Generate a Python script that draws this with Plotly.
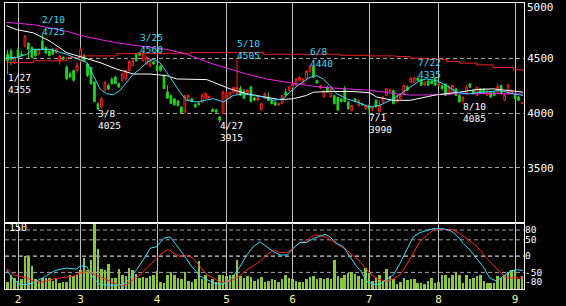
import plotly.graph_objects as go

# ---------------- data ----------------
first_day = -3  # trading-day index of the first candle (Jan 27); Feb 1 = 0

opens = [4540,4570,4470,4580,4540,4614,4640,4600,4580,4540,
         4660,4600,4570,4585,4555,4480,4510,4420,4360,4390,
         4390,4480,4525,4450,4420,4285,4085,4055,4210,4255,
         4310,4330,4270,4300,4315,4390,4435,4540,4555,4480,
         4450,4435,4470,4435,4430,4345,4195,4160,4130,4110,
         4055,4010,4120,4130,4080,4090,4100,4135,4140,4035,
         4030,3965,3995,4135,4140,4190,4180,4225,4200,4180,
         4240,4140,4120,4030,4135,4145,4115,4100,4075,4090,
         4190,4210,4240,4255,4300,4270,4315,4380,4425,4300,
         4230,4150,4235,4150,4160,4145,4130,4220,4100,4025,
         4130,4070,4085,4040,4070,4040,4117,4012,4102,4162,
         4200,4207,4102,4132,4177,4240,4283,4285,4320,4310,
         4255,4295,4295,4320,4255,4250,4265,4177,4192,4222,
         4162,4117,4192,4268,4207,4162,4222,4222,4162,4192,
         4192,4192,4253,4117,4177,4180,4162,4147,4090]
highs = [4580,4590,4520,4600,4570,4715,4650,4610,4590,4590,
         4725,4610,4580,4600,4600,4530,4520,4440,4380,4400,
         4465,4600,4545,4460,4425,4290,4100,4150,4290,4270,
         4330,4340,4280,4365,4400,4480,4500,4550,4560,4558,
         4520,4500,4480,4445,4440,4350,4255,4170,4140,4120,
         4065,4165,4170,4140,4090,4100,4180,4190,4160,4045,
         4040,3975,4210,4200,4195,4240,4505,4250,4220,4220,
         4250,4150,4150,4100,4190,4190,4125,4110,4095,4170,
         4225,4245,4275,4320,4335,4320,4390,4440,4435,4305,
         4260,4210,4250,4230,4170,4150,4140,4250,4110,4075,
         4140,4125,4095,4075,4080,4060,4125,4117,4150,4230,
         4225,4215,4170,4170,4260,4255,4330,4330,4335,4320,
         4290,4300,4300,4330,4275,4262,4270,4260,4260,4232,
         4170,4150,4260,4275,4215,4240,4230,4230,4222,4200,
         4200,4268,4260,4170,4265,4215,4170,4155,4100]
lows = [4355,4440,4450,4500,4520,4600,4505,4500,4515,4530,
        4575,4540,4520,4535,4545,4445,4485,4300,4320,4290,
        4370,4465,4470,4330,4260,4100,4025,4040,4200,4210,
        4260,4265,4230,4290,4300,4380,4430,4470,4520,4470,
        4440,4420,4440,4385,4380,4220,4130,4085,4070,4060,
        4000,4000,4110,4100,4050,4070,4095,4130,4130,4010,
        4000,3915,3990,4130,4130,4180,4170,4160,4130,4170,
        4100,4110,4110,4020,4125,4110,4080,4070,4065,4085,
        4160,4200,4230,4250,4290,4260,4300,4370,4320,4270,
        4220,4140,4185,4140,4080,4020,4100,4100,4030,4015,
        4100,4060,4070,4030,3990,4020,4050,4005,4095,4155,
        4190,4080,4095,4125,4170,4205,4275,4280,4290,4250,
        4250,4250,4265,4250,4250,4215,4160,4170,4185,4155,
        4100,4085,4185,4230,4170,4155,4185,4190,4155,4140,
        4155,4185,4170,4110,4170,4175,4130,4110,4088]
closes = [4480,4490,4510,4510,4530,4705,4585,4510,4525,4585,
          4585,4550,4525,4540,4585,4525,4495,4315,4330,4300,
          4435,4585,4480,4345,4270,4105,4035,4130,4280,4220,
          4270,4270,4240,4360,4390,4475,4480,4480,4530,4550,
          4510,4495,4450,4390,4392,4225,4135,4090,4075,4070,
          4005,4160,4160,4105,4057,4078,4162,4180,4150,4015,
          4010,3935,4192,4165,4190,4235,4235,4165,4135,4210,
          4105,4120,4140,4085,4175,4117,4087,4072,4085,4160,
          4165,4238,4268,4313,4328,4310,4385,4430,4330,4275,
          4250,4205,4192,4220,4087,4027,4105,4105,4040,4070,
          4105,4117,4075,4070,4040,4050,4057,4072,4147,4222,
          4215,4087,4162,4162,4253,4210,4320,4325,4300,4255,
          4285,4255,4270,4255,4268,4223,4162,4238,4253,4162,
          4102,4147,4238,4238,4177,4238,4192,4192,4192,4147,
          4162,4247,4177,4168,4259,4207,4132,4117,4095]
volumes = [16,33,25,18,22,75,72,52,22,18,
           25,25,25,18,25,14,16,16,33,29,
           33,44,70,44,66,148,90,46,44,57,
           25,25,46,33,29,48,44,35,25,28,
           25,29,33,40,16,14,31,38,31,25,
           23,38,18,16,23,63,22,33,14,22,
           16,33,33,29,33,33,65,29,25,29,
           28,18,23,28,16,18,22,20,16,23,
           31,25,23,18,16,16,22,28,29,22,
           25,22,25,23,65,29,25,31,37,38,
           35,29,22,48,37,18,25,31,18,46,
           29,22,11,16,25,20,23,22,14,14,
           11,18,25,14,16,33,31,25,31,38,
           33,14,33,22,25,29,33,18,14,14,
           14,29,25,31,38,43,43,22,29]

# moving averages (vertices: trading-day index, price)
ma_cyan_x = [-3.3,-0.4,2.5,4.4,9.2,14,16.9,19.8,21.7,23.6,
             25.5,27.4,29.3,31.3,33.2,35.1,37,38.9,40.8,42.8,
             44.7,46.6,48.5,51.4,56.2,59.1,61.9,64.8,67.7,70.6,
             73.5,76.3,78.2,81.1,84,85.9,87.8,89.7,91.7,94.5,
             97.4,100.3,101.2,104.1,106,108,110.8,113.7,115.6,117.5,
             120.4,123.3,126.2,129.1,132,134.8,138.7,142.5,145.3]
ma_cyan = [4509,4509,4539,4584,4584,4539,4500,4463,4343,4222,
           4177,4168,4207,4283,4358,4403,4463,4494,4463,4373,
           4283,4192,4117,4102,4132,4102,4162,4177,4162,4147,
           4117,4132,4192,4268,4328,4343,4313,4253,4177,4132,
           4102,4072,4057,4072,4102,4132,4192,4253,4298,4313,
           4298,4253,4192,4177,4186,4192,4207,4177,4162]
ma_white_x = [-3.3,-0.4,4.4,9.2,14,18.8,23.6,28.4,33.2,38,
              42.8,45.6,54.3,56.2,61,65.8,70.6,75.4,79.2,83,
              85,89.7,96.5,101.2,103.2,108,112.8,117.5,120.4,127.1,
              131.9,136.7,141.5,145.3]
ma_white = [4801,4765,4735,4659,4554,4509,4463,4403,4358,4358,
            4343,4313,4307,4283,4222,4177,4147,4123,4132,4162,
            4192,4198,4198,4186,4147,4117,4117,4147,4168,4192,
            4216,4222,4207,4192]
ma_magenta_x = [-3.3,4.4,14,18.8,23.6,28.4,35.1,42.8,48.5,56.2,
                65.8,71.5,80.2,86.9,94.5,101.2,108,113,120,125,
                135,145.3]
ma_magenta = [4831,4810,4750,4705,4674,4644,4614,4584,4539,4448,
              4358,4313,4268,4238,4222,4210,4180,4165,4168,4175,
              4180,4175]
ma_red_x = [-3.3,4.4,14,17.8,28.4,42.8,49.5,55.2,70.6,92.6,
            101.2,108.8,112.8,117.5,123.3,127.1,131.9,136.7,142.5,145.3]
ma_red = [4463,4479,4509,4524,4545,4548,4554,4554,4539,4530,
          4524,4518,4503,4494,4473,4458,4442,4418,4397,4382]

# oscillators in the lower panel
osc_cyan_x = [-3.3,-1.3,0.6,2.5,4.4,6.3,8.2,10.2,12.1,14,
              16.9,17.8,19.8,20.7,22.1,23.6,27.4,30.3,32.2,34.1,
              36,38,39.9,41.8,43.7,45.6,48,50,52.4,54.3,
              56.2,58.1,60,61.9,63.9,65.8,67.7,69.6,71.5,73.5,
              75.4,77.3,79.2,81.1,83,85,86.9,88.3,89.7,91.7,
              93.6,95.5,97.4,98.4,100.3,102.2,104.1,106,108,109.9,
              111.8,113.7,115.6,117.5,119.4,122.3,124.3,126.2,128.1,130,
              131.9,133.8,135.7,137.7,139.6,141.5,143.4,145.3]
osc_cyan = [-42,-72,-87,-87,-82,-72,-60,-47,-40,-37,
            -40,-30,-32,-52,-72,-87,-90,-87,-67,-42,
            -12,24,29,54,59,34,-1,-32,-62,-72,
            -82,-87,-82,-62,-32,3.5,29,44,29,13.6,
            3.5,3.5,24,42,42,54,61,67,59,39,
            29,-1.5,-32,-42,-77,-87,-87,-72,-57,-22,
            18.7,59,72,77,84,84,79,64,39,18.7,
            -6.6,-32,-67,-77,-62,-47,-42,-44]
osc_red_x = [-3.3,-1.3,0.6,2.5,4.4,6.3,8.2,10.2,12.1,14,
             15.9,17.8,19.8,21.7,23.6,25.5,27.4,29.3,31.3,33.2,
             35.1,37,38.9,40.8,42.8,43.7,44.7,46.6,48.5,50.4,
             52.4,54.3,56.2,58.1,60,61.9,63.9,65.8,67.7,69.6,
             71.5,73.5,75.4,77.3,79.2,81.1,83,85,86.9,88.8,
             90.7,92.6,94.5,96.5,98.4,100.3,102.2,104.1,106,108,
             109.9,111.8,113.7,115.6,117.5,119.4,121.3,123.3,125.2,127.1,
             129.1,131,132.9,134.8,136.7,138.7,140.6,142.5,144.4,145.3]
osc_red = [-37,-57,-62,-67,-77,-80,-77,-70,-67,-65,
           -62,-52,-47,-54,-64,-72,-82,-90,-87,-72,
           -57,-37,-17,3.5,18.7,18.7,8.6,-1.5,3.5,-6.6,
           -32,-57,-67,-80,-80,-72,-60,-42,-30,-17,
           3.5,18.7,11,11,24,41,47,64,64,57,
           44,31,18.7,0.5,-17,-42,-62,-72,-77,-70,
           -57,-27,8.6,44,64,79,82,81,81,69,
           54,39,18.7,-6.6,-27,-50,-67,-67,-67,-67]

# labels
month_start_idx = [0, 18, 40, 60, 79, 101, 121, 143]
month_labels = ['2', '3', '4', '5', '6', '7', '8', '9']
price_ticks = [5000, 4500, 4000, 3500]
osc_ticks = [80, 50, 0, -50, -80]
osc_grid = [80, 50, -50]
high_dates = ['2/10', '3/25', '5/10', '6/8', '7/22']
high_idx = [7, 35, 63, 84, 115]
low_dates = ['1/27', '3/8', '4/27', '7/1', '8/10']
low_idx = [-3, 23, 58, 101, 128]
volume_label = '150'

days = list(range(first_day, first_day + len(opens)))
assert len(opens) == len(highs) == len(lows) == len(closes) == len(volumes)

# ---------------- layout helpers ----------------
W, H = 566, 306
LEFT, RIGHT = 5, 524
TOP, MID, BOT = 3, 226, 293
xdom = [LEFT / W, RIGHT / W]
main_dom = [1 - MID / H, 1 - TOP / H]
low_dom = [1 - BOT / H, 1 - MID / H]
xrange_ = [-3.74, 145.57]
FONT = 'DejaVu Sans Mono'

fig = go.Figure()

fig.add_trace(go.Candlestick(
    x=days, open=opens, high=highs, low=lows, close=closes,
    increasing=dict(line=dict(color='#ff2020', width=1), fillcolor='#000000'),
    decreasing=dict(line=dict(color='#22d422', width=1), fillcolor='#22d422'),
    whiskerwidth=0, xaxis='x', yaxis='y', hoverinfo='skip', showlegend=False))

for xs, ys, col, shape in [(ma_red_x, ma_red, '#ee2020', 'hv'),
                           (ma_magenta_x, ma_magenta, '#ee22ee', 'linear'),
                           (ma_white_x, ma_white, '#ffffff', 'linear'),
                           (ma_cyan_x, ma_cyan, '#33ddff', 'linear')]:
    fig.add_trace(go.Scatter(x=xs, y=ys, mode='lines', line=dict(color=col, width=1, shape=shape),
                             xaxis='x', yaxis='y', hoverinfo='skip', showlegend=False))

fig.add_trace(go.Bar(x=days, y=volumes, width=0.72, marker=dict(color='#8cc63f', line=dict(width=0)),
                     xaxis='x2', yaxis='y2', hoverinfo='skip', showlegend=False))
fig.add_trace(go.Scatter(x=osc_red_x, y=osc_red, mode='lines', line=dict(color='#ff2020', width=1),
                         xaxis='x2', yaxis='y3', hoverinfo='skip', showlegend=False))
fig.add_trace(go.Scatter(x=osc_cyan_x, y=osc_cyan, mode='lines', line=dict(color='#33ddff', width=1),
                         xaxis='x2', yaxis='y3', hoverinfo='skip', showlegend=False))

shapes = []
for v in osc_grid:
    shapes.append(dict(type='line', xref='paper', x0=xdom[0], x1=xdom[1], yref='y3', y0=v, y1=v,
                       line=dict(color='#a0a0a0', width=1, dash='4px,3px'), layer='below'))
shapes.append(dict(type='line', xref='paper', x0=xdom[0], x1=xdom[1], yref='y3', y0=0, y1=0,
                   line=dict(color='#ffffff', width=1, dash='4px,3px'), layer='below'))

annotations = []
hi_font = dict(family=FONT, size=9.5, color='#33ddff')
lo_font = dict(family=FONT, size=9.5, color='#ffffff')
lab = dict(showarrow=False, xref='x', yref='y', xanchor='left', yanchor='middle', borderpad=0,
           align='left')
for d, i in zip(high_dates, high_idx):
    p = highs[i - first_day]
    annotations.append(dict(x=i, y=p, text=d + '<br>' + str(p), xshift=-1, yshift=8,
                            font=hi_font, **lab))
for d, i in zip(low_dates, low_idx):
    p = lows[i - first_day]
    annotations.append(dict(x=i, y=p, text=d + '<br>' + str(p), xshift=-1, yshift=-9,
                            font=lo_font, **lab))
annotations.append(dict(x=7 / W, y=1 - 231 / H, xref='paper', yref='paper', text=volume_label,
                        showarrow=False, xanchor='left', yanchor='middle',
                        font=dict(family=FONT, size=10, color='#ffffff')))
# top price label, placed as text beside the axis so it stays inside the page
annotations.append(dict(x=(RIGHT + 2) / W, y=price_ticks[0], xref='paper', yref='y',
                        text=str(price_ticks[0]), showarrow=False, xanchor='left', yanchor='middle',
                        height=8, borderpad=0, yshift=-3,
                        font=dict(family=FONT, size=11, color='#ffffff')))

grid_v = dict(showgrid=True, gridcolor='#c0c0c0', gridwidth=1)
fig.update_layout(
    width=W, height=H, margin=dict(l=0, r=0, t=0, b=0),
    paper_bgcolor='#000000', plot_bgcolor='#000000',
    font=dict(family=FONT, size=10, color='#ffffff'),
    showlegend=False, bargap=0,
    xaxis=dict(domain=xdom, range=xrange_, anchor='y', tickmode='array', tickvals=month_start_idx,
               showticklabels=False, ticks='', zeroline=False, showline=True, linecolor='#ffffff',
               linewidth=1, mirror=True, rangeslider=dict(visible=False), fixedrange=True, **grid_v),
    yaxis=dict(domain=main_dom, range=[2993, 5009], anchor='x', side='right', tickmode='array',
               tickvals=price_ticks[1:], ticktext=[str(t) for t in price_ticks[1:]], ticks='',
               tickfont=dict(family=FONT, size=11, color='#ffffff'),
               showgrid=True, gridcolor='#a0a0a0', gridwidth=1, griddash='4px,3px',
               zeroline=False, showline=True, linecolor='#ffffff', linewidth=1, mirror=True),
    xaxis2=dict(domain=xdom, range=xrange_, anchor='y2', tickmode='array', tickvals=month_start_idx,
                ticktext=month_labels, ticks='', tickfont=dict(family=FONT, size=11, color='#f5f5a0'),
                zeroline=False, showline=True, linecolor='#ffffff', linewidth=1, mirror=True,
                fixedrange=True, **grid_v),
    yaxis2=dict(domain=low_dom, range=[0, 150], anchor='x2', showticklabels=False, ticks='',
                showgrid=False, zeroline=False, showline=True, linecolor='#ffffff', linewidth=1,
                mirror=True),
    yaxis3=dict(overlaying='y2', anchor='x2', range=[-101.5, 101.5], side='right', tickmode='array',
                tickvals=osc_ticks, ticktext=[str(t) for t in osc_ticks], ticks='',
                ticklabeloverflow='allow',
                tickfont=dict(family=FONT, size=9.5, color='#ffffff'),
                showgrid=False, zeroline=False, showline=False),
    shapes=shapes, annotations=annotations,
)

fig.write_html('out.html')
